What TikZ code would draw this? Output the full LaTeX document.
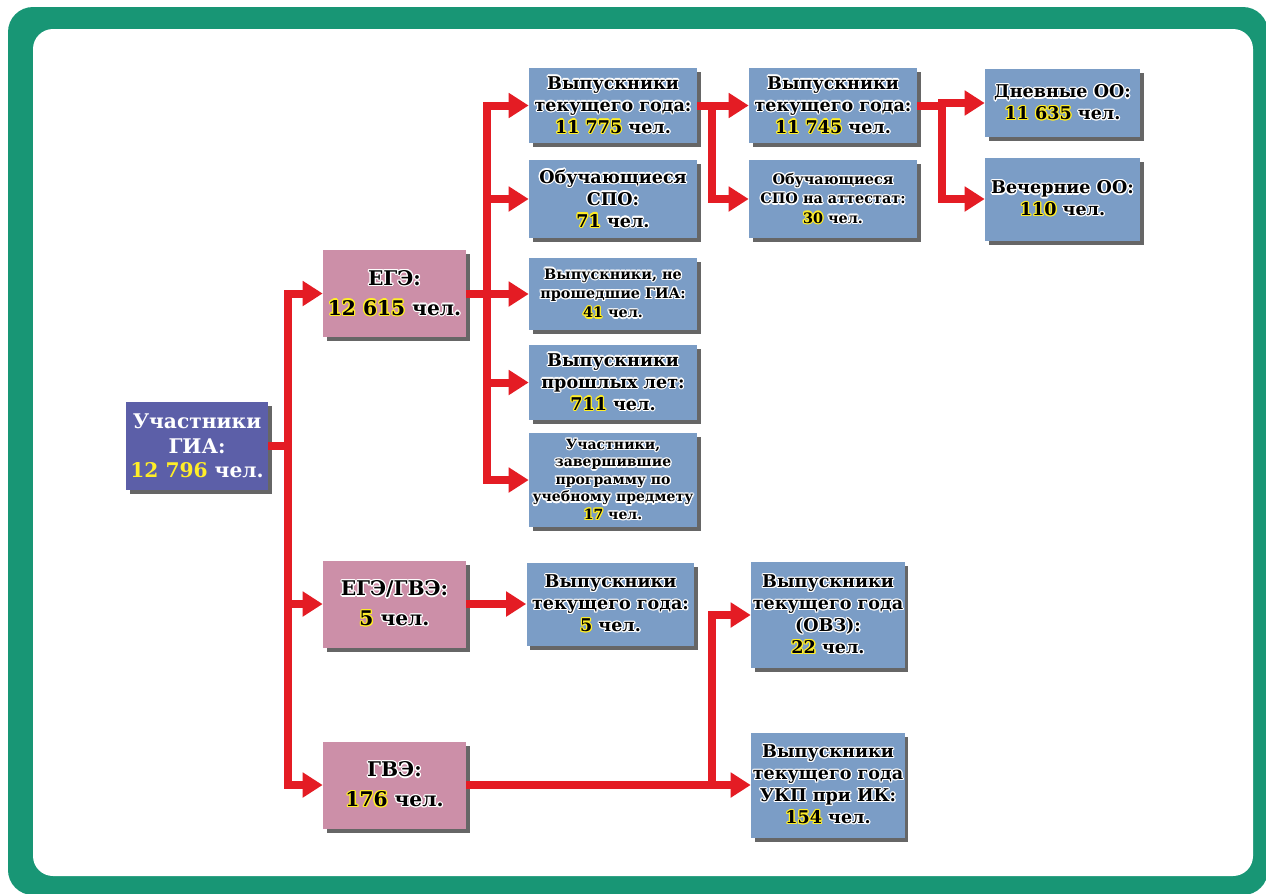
\documentclass[tikz,border=0pt]{standalone}
\usepackage{fontspec}
\setmainfont{DejaVu Serif}
\usepackage{contour}
\usepackage{tikz}
\usetikzlibrary{arrows.meta, shadows, positioning}
\definecolor{giablue}{RGB}{92,95,168}
\definecolor{egepink}{RGB}{204,143,168}
\definecolor{grpblue}{RGB}{123,157,198}
\definecolor{arrowred}{RGB}{228,28,36}
\definecolor{framegreen}{RGB}{24,150,117}
\definecolor{glow}{RGB}{255,238,40}
\contourlength{0.7pt}
\contournumber{12}
\newcommand{\lbl}[1]{\contour{white}{#1}}
\newcommand{\cnt}[1]{\contour{glow}{#1}}

\begin{document}
\begin{tikzpicture}[x=0.02cm, y=-0.02cm]

% Styles
\tikzset{
  base/.style={rectangle, inner sep=1pt, align=center,
    drop shadow={shadow xshift=2pt, shadow yshift=-2.5pt, fill=black!80, opacity=0.75}},
  root/.style={base, fill=giablue, text=white, minimum width=2.84cm, minimum height=1.76cm,
    font=\bfseries\fontsize{11.5}{14}\selectfont},
  exam/.style={base, fill=egepink, minimum width=2.86cm, minimum height=1.74cm,
    font=\bfseries\fontsize{11.5}{17}\selectfont},
  leaf/.style={base, fill=grpblue, minimum width=3.36cm, minimum height=1.5cm,
    font=\bfseries\fontsize{10}{12.5}\selectfont},
  narrow/.style={leaf, minimum width=2.8cm, minimum height=2.12cm},
  smalltext/.style={font=\bfseries\fontsize{8.2}{11}\selectfont},
  tinytext/.style={font=\bfseries\fontsize{8}{10}\selectfont},
  stub/.style={line width=0.16cm, draw=arrowred},
  trunk/.style={line width=0.16cm, draw=arrowred, line cap=rect},
  arrow/.style={-{Triangle[length=0.4cm, width=0.48cm]}, line width=0.16cm, draw=arrowred}
}

\useasboundingbox (0,0) rectangle (1266,893);
% Rahmen
\fill[framegreen, rounded corners=0.5cm] (8,7) rectangle (1268,895);
\fill[white, rounded corners=0.4cm] (33,29) rectangle (1253,876);

%==========================
% Knoten
%==========================
\node[root] (gia) at (197,446) {Участники\\ГИА:\\\textcolor{glow}{12 796} чел.};

\node[exam] (ege)    at (394.5,293.5) {\lbl{ЕГЭ:}\\\cnt{12 615} \lbl{чел.}};
\node[exam] (egegve) at (394.5,604)   {\lbl{ЕГЭ/ГВЭ:}\\\cnt{5} \lbl{чел.}};
\node[exam] (gve)    at (394.5,785)   {\lbl{ГВЭ:}\\\cnt{176} \lbl{чел.}};

\node[leaf] (cur)   at (613,105.5) {\lbl{Выпускники}\\\lbl{текущего года:}\\\cnt{11 775} \lbl{чел.}};
\node[leaf, minimum height=1.56cm] (spo) at (613,199) {\lbl{Обучающиеся}\\\lbl{СПО:}\\\cnt{71} \lbl{чел.}};
\node[leaf, smalltext, minimum height=1.44cm] (failed) at (613,294) {\lbl{Выпускники, не}\\\lbl{прошедшие ГИА:}\\\cnt{41} \lbl{чел.}};
\node[leaf] (past)  at (613,382.5) {\lbl{Выпускники}\\\lbl{прошлых лет:}\\\cnt{711} \lbl{чел.}};
\node[leaf, tinytext, minimum height=1.88cm] (subj) at (613,480) {\lbl{Участники,}\\\lbl{завершившие}\\\lbl{программу по}\\\lbl{учебному предмету}\\\cnt{17} \lbl{чел.}};
\node[leaf, minimum height=1.66cm] (mixed) at (610.5,604) {\lbl{Выпускники}\\\lbl{текущего года:}\\\cnt{5} \lbl{чел.}};

\node[leaf] (curall) at (833,105.5) {\lbl{Выпускники}\\\lbl{текущего года:}\\\cnt{11 745} \lbl{чел.}};
\node[leaf, smalltext, minimum height=1.56cm] (spoatt) at (833,199) {\lbl{Обучающиеся}\\\lbl{СПО на аттестат:}\\\cnt{30} \lbl{чел.}};

\node[leaf, minimum width=3.1cm, minimum height=1.36cm] (day) at (1062.5,103) {\lbl{Дневные ОО:}\\\cnt{11 635} \lbl{чел.}};
\node[leaf, minimum width=3.1cm, minimum height=1.66cm] (evening) at (1062.5,199) {\lbl{Вечерние ОО:}\\\cnt{110} \lbl{чел.}};

\node[narrow] (ovz) at (828,615) {\lbl{Выпускники}\\\lbl{текущего года}\\\lbl{(ОВЗ):}\\\cnt{22} \lbl{чел.}};
\node[narrow, minimum height=2.1cm] (ukp) at (828,785) {\lbl{Выпускники}\\\lbl{текущего года}\\\lbl{УКП при ИК:}\\\cnt{154} \lbl{чел.}};

\coordinate (j1) at (288,446);
\coordinate (j2) at (487,293.5);
\coordinate (j3) at (712,105.5);
\coordinate (j4) at (942,105.5);
\coordinate (j5) at (712,785);

%==========================
% Pfeile
%==========================
\draw[stub] (gia.east) -- (j1);
\draw[trunk] (j1 |- ege.west) -- (j1 |- gve.west);
\draw[arrow] (j1 |- ege.west) -- (ege.west);
\draw[arrow] (j1 |- egegve.west) -- (egegve.west);
\draw[arrow] (j1 |- gve.west) -- (gve.west);

\draw[stub] (ege.east) -- (j2);
\draw[trunk] (j2 |- cur.west) -- (j2 |- subj.west);
\draw[arrow] (j2 |- cur.west) -- (cur.west);
\draw[arrow] (j2 |- spo.west) -- (spo.west);
\draw[arrow] (j2 |- failed.west) -- (failed.west);
\draw[arrow] (j2 |- past.west) -- (past.west);
\draw[arrow] (j2 |- subj.west) -- (subj.west);

\draw[stub] (cur.east) -- (j3);
\draw[trunk] (j3) -- (j3 |- spoatt.west);
\draw[arrow] (j3) -- (curall.west);
\draw[arrow] (j3 |- spoatt.west) -- (spoatt.west);

\draw[stub] (curall.east) -- (j4);
\draw[trunk] (j4 |- day.west) -- (j4 |- evening.west);
\draw[arrow] (j4 |- day.west) -- (day.west);
\draw[arrow] (j4 |- evening.west) -- (evening.west);

\draw[arrow] (egegve.east) -- (mixed.west);

\draw[stub] (gve.east) -- (j5);
\draw[trunk] (j5) -- (j5 |- ovz.west);
\draw[arrow] (j5 |- ovz.west) -- (ovz.west);
\draw[arrow] (j5) -- (ukp.west);
\end{tikzpicture}
\end{document}
